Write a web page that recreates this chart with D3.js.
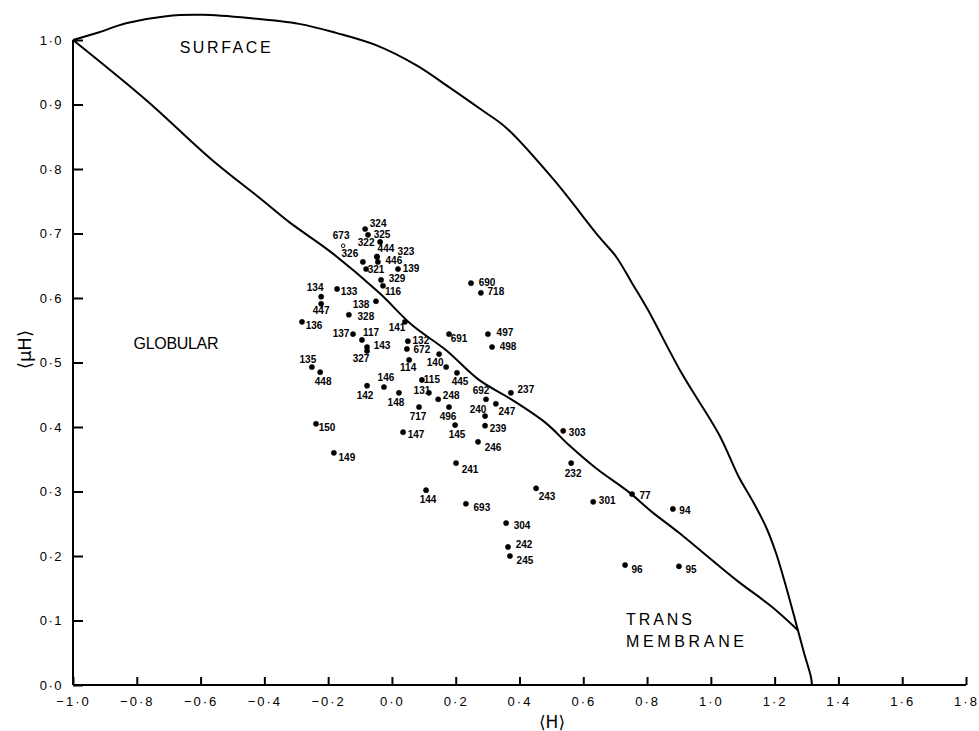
<!DOCTYPE html>
<html>
<head>
<meta charset="utf-8">
<script src="https://cdn.jsdelivr.net/npm/d3@7"></script>
<style>
  body { margin: 0; background: #fff; }
  svg { display: block; }
  .axis path, .axis line { stroke: #000; stroke-width: 2; }
  .axis text { font-family: "Liberation Sans", Arial, sans-serif; fill: #000; }
  .pt-label { font-family: "Liberation Sans", Arial, sans-serif; font-size: 10px; font-weight: bold; }
  .region { font-family: "Liberation Sans", Arial, sans-serif; font-size: 16px; }
</style>
</head>
<body>
<svg id="graph" width="979" height="731"></svg>
<script>
// protein segment ids with mean hydrophobicity <H> and hydrophobic moment <muH>
const ids = ['324','325','673','322','444','323','446','326','321','139','329','116','134','447','133','138','328','136','141','137','117','143','327','132','672','691','140','','135','448','114','146','142','115','445','131','148','248','717','496','145','150','147','692','237','247','240','239','246','241','144','693','243','303','232','301','77','94','304','242','245','96','95','690','718','497','498','149'];
const hVals = [-0.084,-0.075,-0.153,-0.037,-0.047,-0.047,-0.044,-0.091,-0.081,0.019,-0.034,-0.028,-0.222,-0.222,-0.172,-0.050,-0.135,-0.282,0.041,-0.122,-0.094,-0.078,-0.078,0.050,0.047,0.179,0.148,0.170,-0.251,-0.225,0.054,-0.025,-0.078,0.094,0.204,0.116,0.022,0.145,0.085,0.179,0.198,-0.238,0.035,0.295,0.373,0.326,0.292,0.292,0.270,0.201,0.107,0.232,0.452,0.537,0.562,0.631,0.753,0.881,0.358,0.364,0.370,0.731,0.900,0.248,0.279,0.301,0.314,-0.182];
const muHVals = [0.707,0.698,0.681,0.687,0.664,0.664,0.656,0.656,0.645,0.645,0.628,0.619,0.602,0.591,0.614,0.595,0.574,0.563,0.563,0.544,0.535,0.524,0.518,0.533,0.521,0.544,0.513,0.493,0.493,0.485,0.504,0.462,0.464,0.473,0.484,0.453,0.453,0.443,0.431,0.431,0.403,0.405,0.392,0.443,0.453,0.436,0.417,0.402,0.377,0.344,0.302,0.281,0.305,0.394,0.344,0.284,0.296,0.273,0.251,0.214,0.200,0.186,0.184,0.623,0.608,0.544,0.524,0.360];
const openIds = ['673'];

// label offsets from each dot, in px
const labelOffsets = [[13,-5],[14,0],[-2,-10],[-14,1],[9,-8],[29,-5],[16,-1],[-13,-8],[10,1],[13,0],[16,-1],[10,6],[-6,-9],[0,7],[12,3],[-15,3],[17,2],[12,4],[-8,6],[-12,-1],[9,-7],[15,-2],[-6,8],[13,-1],[15,1],[10,4],[-4,8],[0,0],[-4,-8],[3,9],[-1,8],[2,-10],[-2,10],[10,0],[3,9],[-7,-2],[-3,10],[13,-4],[-1,9],[-1,9],[2,9],[11,4],[13,2],[-5,-9],[15,-3],[11,8],[-7,-7],[13,3],[15,6],[14,6],[2,9],[16,4],[11,8],[14,2],[2,10],[14,-1],[13,1],[12,2],[16,2],[16,-2],[15,4],[12,4],[12,3],[16,-1],[15,-1],[17,-2],[16,-1],[13,5]];

// outer (surface) boundary curve
const surfaceH = [-1.000,-0.918,-0.834,-0.708,-0.595,-0.448,-0.291,-0.175,-0.050,0.076,0.179,0.283,0.358,0.508,0.649,0.703,0.753,0.800,0.910,1.026,1.088,1.129,1.173,1.204,1.236,1.273,1.292,1.314,1.317];
const surfaceMuH = [1.000,1.012,1.026,1.037,1.039,1.034,1.025,1.011,0.992,0.961,0.927,0.891,0.864,0.783,0.695,0.664,0.623,0.584,0.482,0.388,0.322,0.287,0.245,0.205,0.152,0.085,0.050,0.012,0.000];

// globular / transmembrane dividing line
const boundaryH = [-1.000,-0.771,-0.564,-0.407,-0.323,-0.188,-0.040,0.063,0.170,0.273,0.377,0.483,0.555,0.640,0.743,0.816,0.900,1.079,1.192,1.273];
const boundaryMuH = [1.000,0.907,0.814,0.752,0.718,0.670,0.608,0.558,0.519,0.473,0.442,0.406,0.372,0.336,0.299,0.268,0.236,0.163,0.121,0.085];

const xTicks = [-1.0,-0.8,-0.6,-0.4,-0.2,0.0,0.2,0.4,0.6,0.8,1.0,1.2,1.4,1.6,1.8];
const yTicks = [0.0,0.1,0.2,0.3,0.4,0.5,0.6,0.7,0.8,0.9,1.0];

const regionNames = ['SURFACE','GLOBULAR','TRANS','MEMBRANE'];
const regionH = [-0.523,-0.677,0.734,0.734];
const regionMuH = [0.989,0.530,0.101,0.067];
const regionAnchor = ['middle','middle','start','start'];
const regionWidths = [91, 85, 66, 118];

const svg = d3.select('#graph');

const x = d3.scaleLinear().domain([-1, 1.8]).range([73, 966]);
const y = d3.scaleLinear().domain([0, 1]).range([685, 40]);

const fmt = d => d3.format('.1f')(d).replace('-', '\u2212').replace('.', '\u00b7');

// axes
svg.append('g')
  .attr('class', 'axis')
  .attr('transform', `translate(0, ${y(0)})`)
  .call(d3.axisBottom(x).tickValues(xTicks).tickSize(-8).tickSizeOuter(0).tickPadding(12).tickFormat(fmt))
  .call(g => g.selectAll('text').attr('font-size', 13).attr('letter-spacing', '2px'))
  .call(g => g.select('.domain').attr('d', `M${x(-1)},0H${x(1.8)}`));

svg.append('g')
  .attr('class', 'axis')
  .attr('transform', `translate(${x(-1)}, 0)`)
  .call(d3.axisLeft(y).tickValues(yTicks).tickSize(-10).tickSizeOuter(0).tickPadding(10).tickFormat(fmt))
  .call(g => g.selectAll('text').attr('font-size', 13).attr('letter-spacing', '1.5px'))
  .call(g => g.select('.domain').attr('d', `M0,${y(1)}V${y(0)}`));

// axis titles
svg.append('text')
  .attr('transform', `translate(24, ${y(0.52)}) rotate(-90)`)
  .attr('text-anchor', 'middle')
  .attr('dominant-baseline', 'central')
  .attr('font-family', 'DejaVu Sans, sans-serif')
  .attr('font-size', 18)
  .text('\u27e8\u03bcH\u27e9');

svg.append('text')
  .attr('x', 552)
  .attr('y', 722)
  .attr('text-anchor', 'middle')
  .attr('dominant-baseline', 'central')
  .attr('font-family', 'DejaVu Sans, sans-serif')
  .attr('font-size', 17)
  .text('\u27e8H\u27e9');

// curves
const line = d3.line()
  .x(d => x(d[0]))
  .y(d => y(d[1]))
  .curve(d3.curveCatmullRom);

svg.append('path')
  .attr('d', line(d3.zip(surfaceH, surfaceMuH)))
  .attr('fill', 'none')
  .attr('stroke', '#000')
  .attr('stroke-width', 2);

svg.append('path')
  .attr('d', line(d3.zip(boundaryH, boundaryMuH)))
  .attr('fill', 'none')
  .attr('stroke', '#000')
  .attr('stroke-width', 2);

// region labels
regionNames.forEach((name, i) => {
  svg.append('text')
    .attr('class', 'region')
    .attr('x', x(regionH[i]))
    .attr('y', y(regionMuH[i]))
    .attr('text-anchor', regionAnchor[i])
    .attr('dominant-baseline', 'central')
    .attr('textLength', regionWidths[i])
    .attr('lengthAdjust', 'spacing')
    .text(name);
});

// points
const points = ids.map((id, i) => ({ id: id, h: hVals[i], m: muHVals[i], off: labelOffsets[i] }));

svg.append('g')
  .selectAll('circle')
  .data(points)
  .join('circle')
  .attr('cx', d => x(d.h))
  .attr('cy', d => y(d.m))
  .attr('r', d => openIds.includes(d.id) ? 1.8 : 2.6)
  .attr('fill', d => openIds.includes(d.id) ? '#fff' : '#000')
  .attr('stroke', '#000')
  .attr('stroke-width', d => openIds.includes(d.id) ? 1 : 0.5);

svg.append('g')
  .selectAll('text')
  .data(points.filter(d => d.id !== ''))
  .join('text')
  .attr('class', 'pt-label')
  .attr('x', d => x(d.h) + d.off[0])
  .attr('y', d => y(d.m) + d.off[1])
  .attr('text-anchor', 'middle')
  .attr('dominant-baseline', 'central')
  .text(d => d.id);
</script>
</body>
</html>
